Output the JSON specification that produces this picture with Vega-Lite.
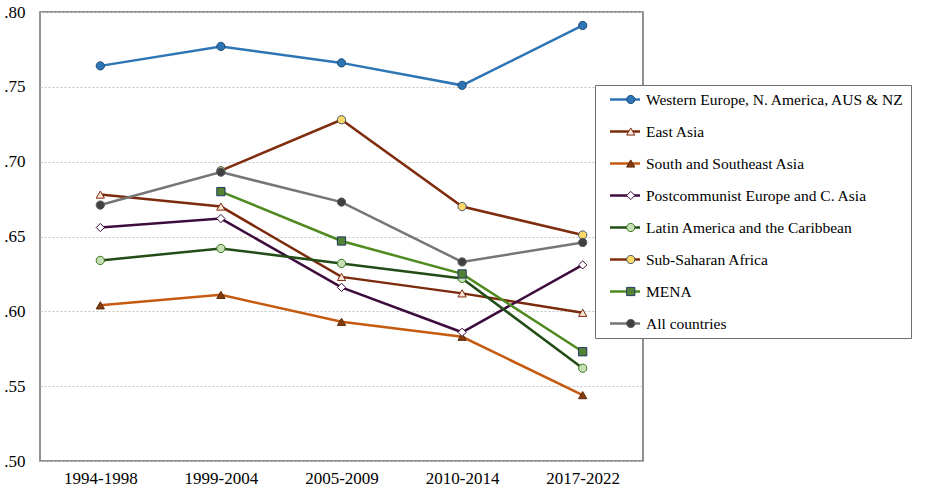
{
  "$schema": "https://vega.github.io/schema/vega-lite/v6.json",
  "autosize": "none",
  "width": 603,
  "height": 449,
  "padding": {"left": 40, "top": 12, "right": 292, "bottom": 29},
  "background": "white",
  "config": {
    "font": "Liberation Serif",
    "view": {"stroke": "#6e6e6e", "strokeWidth": 1.5},
    "axis": {"labelFont": "Liberation Serif", "labelFontSize": 17, "labelColor": "#000000", "ticks": false, "domain": false, "title": null}
  },
  "data": {
    "values": [
      {"region": "Western Europe, N. America, AUS & NZ", "period": "1994-1998", "value": 0.764},
      {"region": "Western Europe, N. America, AUS & NZ", "period": "1999-2004", "value": 0.777},
      {"region": "Western Europe, N. America, AUS & NZ", "period": "2005-2009", "value": 0.766},
      {"region": "Western Europe, N. America, AUS & NZ", "period": "2010-2014", "value": 0.751},
      {"region": "Western Europe, N. America, AUS & NZ", "period": "2017-2022", "value": 0.791},
      {"region": "East Asia", "period": "1994-1998", "value": 0.678},
      {"region": "East Asia", "period": "1999-2004", "value": 0.670},
      {"region": "East Asia", "period": "2005-2009", "value": 0.623},
      {"region": "East Asia", "period": "2010-2014", "value": 0.612},
      {"region": "East Asia", "period": "2017-2022", "value": 0.599},
      {"region": "South and Southeast Asia", "period": "1994-1998", "value": 0.604},
      {"region": "South and Southeast Asia", "period": "1999-2004", "value": 0.611},
      {"region": "South and Southeast Asia", "period": "2005-2009", "value": 0.593},
      {"region": "South and Southeast Asia", "period": "2010-2014", "value": 0.583},
      {"region": "South and Southeast Asia", "period": "2017-2022", "value": 0.544},
      {"region": "Postcommunist Europe and C. Asia", "period": "1994-1998", "value": 0.656},
      {"region": "Postcommunist Europe and C. Asia", "period": "1999-2004", "value": 0.662},
      {"region": "Postcommunist Europe and C. Asia", "period": "2005-2009", "value": 0.616},
      {"region": "Postcommunist Europe and C. Asia", "period": "2010-2014", "value": 0.586},
      {"region": "Postcommunist Europe and C. Asia", "period": "2017-2022", "value": 0.631},
      {"region": "Latin America and the Caribbean", "period": "1994-1998", "value": 0.634},
      {"region": "Latin America and the Caribbean", "period": "1999-2004", "value": 0.642},
      {"region": "Latin America and the Caribbean", "period": "2005-2009", "value": 0.632},
      {"region": "Latin America and the Caribbean", "period": "2010-2014", "value": 0.622},
      {"region": "Latin America and the Caribbean", "period": "2017-2022", "value": 0.562},
      {"region": "Sub-Saharan Africa", "period": "1999-2004", "value": 0.694},
      {"region": "Sub-Saharan Africa", "period": "2005-2009", "value": 0.728},
      {"region": "Sub-Saharan Africa", "period": "2010-2014", "value": 0.670},
      {"region": "Sub-Saharan Africa", "period": "2017-2022", "value": 0.651},
      {"region": "MENA", "period": "1999-2004", "value": 0.680},
      {"region": "MENA", "period": "2005-2009", "value": 0.647},
      {"region": "MENA", "period": "2010-2014", "value": 0.625},
      {"region": "MENA", "period": "2017-2022", "value": 0.573},
      {"region": "All countries", "period": "1994-1998", "value": 0.671},
      {"region": "All countries", "period": "1999-2004", "value": 0.693},
      {"region": "All countries", "period": "2005-2009", "value": 0.673},
      {"region": "All countries", "period": "2010-2014", "value": 0.633},
      {"region": "All countries", "period": "2017-2022", "value": 0.646}
    ]
  },
  "encoding": {
    "x": {"field": "period", "type": "ordinal", "scale": {"type": "point", "padding": 0.5}, "axis": {"labelAngle": 0, "labelPadding": 9, "grid": false}},
    "y": {"field": "value", "type": "quantitative", "scale": {"domain": [0.5, 0.8], "nice": false, "zero": false}, "axis": {"values": [0.5, 0.55, 0.6, 0.65, 0.7, 0.75, 0.8], "labelExpr": "replace(format(datum.value, '.2f'), '0.', '.')", "labelPadding": 15, "grid": true, "gridDash": [2, 2], "gridColor": "#c4c4c4", "gridWidth": 1}}
  },
  "layer": [
    {
      "mark": {"type": "line", "strokeWidth": 2.5},
      "encoding": {
        "color": {
          "field": "region", "type": "nominal",
          "scale": {
            "domain": ["Western Europe, N. America, AUS & NZ", "East Asia", "South and Southeast Asia", "Postcommunist Europe and C. Asia", "Latin America and the Caribbean", "Sub-Saharan Africa", "MENA", "All countries"],
            "range": ["#2e75b6", "#7b2b0c", "#c55a11", "#3d0c3d", "#234d17", "#7f2d0c", "#4f8a1f", "#767676"]
          },
          "legend": {
            "title": null, "orient": "none", "legendX": 555, "legendY": 73, "zindex": 5,
            "symbolType": "stroke", "symbolSize": 900, "symbolStrokeWidth": 2.5, "clipHeight": 17,
            "rowPadding": 15, "padding": 6, "symbolOffset": 7.5, "labelOffset": 4.5,
            "labelFont": "Liberation Serif", "labelFontSize": 15.5, "labelColor": "#000000", "labelLimit": 0,
            "fillColor": "#ffffff", "strokeColor": "#6e6e6e", "symbolOpacity": 1
          }
        }
      }
    },
    {
      "mark": {"type": "point", "filled": false, "opacity": 1, "strokeWidth": 1, "size": 68},
      "encoding": {
        "fill": {
          "field": "region", "type": "nominal",
          "sort": ["Western Europe, N. America, AUS & NZ", "East Asia", "South and Southeast Asia", "Postcommunist Europe and C. Asia", "Latin America and the Caribbean", "Sub-Saharan Africa", "MENA", "All countries"],
          "scale": {"range": ["#2e75b6", "#fce4d6", "#843c0c", "#ffffff", "#c5e0b4", "#ffd966", "#548235", "#404040"]},
          "legend": {
            "title": null, "orient": "none", "legendX": 555, "legendY": 73, "zindex": 6,
            "symbolSize": 68, "symbolStrokeWidth": 1, "clipHeight": 17,
            "rowPadding": 15, "padding": 6, "symbolOffset": 22, "labelOffset": 4,
            "labelExpr": "''",
            "labelFont": "Liberation Serif", "labelFontSize": 15.5, "labelLimit": 0,
            "symbolOpacity": 1,
            "encode": {
              "symbols": {
                "update": {
                  "shape": {"signal": "['circle', 'triangle-up', 'triangle-up', 'diamond', 'circle', 'circle', 'square', 'circle'][indexof(['Western Europe, N. America, AUS & NZ', 'East Asia', 'South and Southeast Asia', 'Postcommunist Europe and C. Asia', 'Latin America and the Caribbean', 'Sub-Saharan Africa', 'MENA', 'All countries'], datum.value)]"},
                  "stroke": {"signal": "['#1f4e79', '#7b2b0c', '#5c2808', '#3d0c3d', '#38761d', '#44546a', '#1f3864', '#595959'][indexof(['Western Europe, N. America, AUS & NZ', 'East Asia', 'South and Southeast Asia', 'Postcommunist Europe and C. Asia', 'Latin America and the Caribbean', 'Sub-Saharan Africa', 'MENA', 'All countries'], datum.value)]"},
                  "strokeWidth": {"value": 1},
                  "fillOpacity": {"value": 1},
                  "opacity": {"value": 1}
                }
              }
            }
          }
        },
        "shape": {
          "field": "region", "type": "nominal",
          "sort": ["Western Europe, N. America, AUS & NZ", "East Asia", "South and Southeast Asia", "Postcommunist Europe and C. Asia", "Latin America and the Caribbean", "Sub-Saharan Africa", "MENA", "All countries"],
          "scale": {"range": ["circle", "triangle-up", "triangle-up", "diamond", "circle", "circle", "square", "circle"]},
          "legend": null
        },
        "stroke": {
          "field": "region", "type": "nominal",
          "sort": ["Western Europe, N. America, AUS & NZ", "East Asia", "South and Southeast Asia", "Postcommunist Europe and C. Asia", "Latin America and the Caribbean", "Sub-Saharan Africa", "MENA", "All countries"],
          "scale": {"range": ["#1f4e79", "#7b2b0c", "#5c2808", "#3d0c3d", "#38761d", "#44546a", "#1f3864", "#595959"]},
          "legend": null
        }
      }
    }
  ]
}
